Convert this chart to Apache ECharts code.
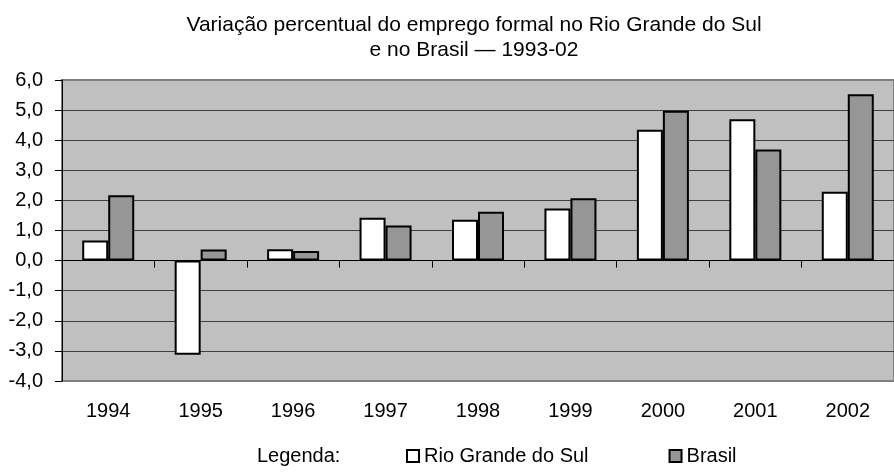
<!DOCTYPE html>
<html>
<head>
<meta charset="utf-8">
<script src="https://cdn.jsdelivr.net/npm/echarts@6/dist/echarts.min.js"></script>
<style>
  html, body { margin: 0; padding: 0; background: #fff; }
  #chart { width: 894px; height: 474px; }
</style>
</head>
<body>
<div id="chart"></div>
<script>
  // anos (eixo x)
  var anos = ['1994', '1995', '1996', '1997', '1998', '1999', '2000', '2001', '2002']
  // variação % do emprego formal
  var rioGrandeDoSul = [0.67, -3.13, 0.38, 1.42, 1.36, 1.73, 4.35, 4.70, 2.29]
  var brasil = [2.17, 0.37, 0.32, 1.17, 1.62, 2.07, 4.98, 3.69, 5.53]
  var yMin = -4
  var yMax = 6
  var yStep = 1

  var fonte = '"Liberation Sans", Arial, sans-serif'
  var chart = echarts.init(document.getElementById('chart'))

  chart.setOption({
    animation: false,
    backgroundColor: '#ffffff',
    textStyle: { fontFamily: fonte, color: '#000' },
    title: [
      {
        text: 'Variação percentual do emprego formal no Rio Grande do Sul\ne no Brasil — 1993-02',
        left: 469,
        top: 8,
        textAlign: 'center',
        textStyle: { fontFamily: fonte, fontSize: 21, fontWeight: 'normal', color: '#000', lineHeight: 25 }
      },
      {
        text: 'Legenda:',
        left: 252,
        top: 441,
        textStyle: { fontFamily: fonte, fontSize: 20, fontWeight: 'normal', color: '#000' }
      }
    ],
    legend: {
      data: ['Rio Grande do Sul', 'Brasil'],
      left: 401,
      top: 441,
      icon: 'rect',
      itemWidth: 12,
      itemHeight: 12,
      itemGap: 80,
      textStyle: { fontFamily: fonte, fontSize: 20, color: '#000' },
      itemStyle: { borderColor: '#000', borderWidth: 2 }
    },
    grid: {
      left: 62,
      right: -8,
      top: 80,
      bottom: 93,
      show: true,
      backgroundColor: '#c0c0c0',
      borderColor: '#808080',
      borderWidth: 2
    },
    xAxis: [
      {
        // linha do zero com as marcas entre categorias
        type: 'category',
        data: anos,
        position: 'top',
        axisLine: { onZero: true, lineStyle: { color: '#000', width: 1 } },
        axisTick: { show: true, inside: true, length: 7, lineStyle: { color: '#000' } },
        axisLabel: { show: false },
        splitLine: { show: false }
      },
      {
        // rótulos dos anos embaixo
        type: 'category',
        data: anos,
        position: 'bottom',
        axisLine: { show: false, onZero: false },
        axisTick: { show: false },
        axisLabel: { margin: 20, fontFamily: fonte, fontSize: 20, color: '#000' },
        splitLine: { show: false }
      }
    ],
    yAxis: {
      type: 'value',
      min: yMin,
      max: yMax,
      interval: yStep,
      axisLine: { show: true, lineStyle: { color: '#000', width: 1 } },
      axisTick: { show: true, length: 7, lineStyle: { color: '#000' } },
      axisLabel: {
        margin: 19,
        fontFamily: fonte,
        fontSize: 20,
        color: '#000',
        formatter: function (v) { return v.toFixed(1).replace('.', ',') }
      },
      splitLine: { show: true, showMinLine: false, showMaxLine: false, lineStyle: { color: '#404040', width: 1 } }
    },
    series: [
      {
        name: 'Rio Grande do Sul',
        type: 'bar',
        xAxisIndex: 0,
        data: rioGrandeDoSul,
        barWidth: 26,
        barGap: '0%',
        itemStyle: { color: '#ffffff', borderColor: '#000', borderWidth: 2 }
      },
      {
        name: 'Brasil',
        type: 'bar',
        xAxisIndex: 0,
        data: brasil,
        barWidth: 26,
        barGap: '0%',
        itemStyle: { color: '#969696', borderColor: '#000', borderWidth: 2 }
      }
    ]
  })
</script>
</body>
</html>
